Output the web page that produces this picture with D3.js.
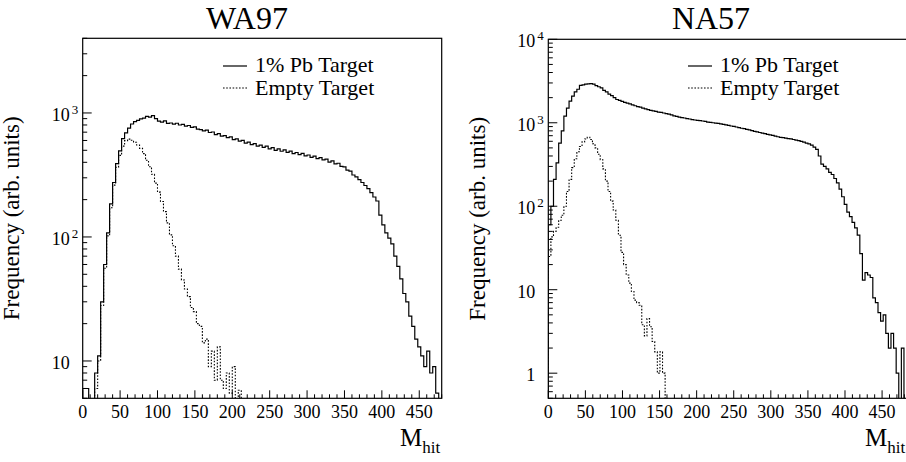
<!DOCTYPE html>
<html>
<head>
<meta charset="utf-8">
<script src="https://cdn.jsdelivr.net/npm/d3@7"></script>
<style>
  body { margin: 0; background: #fff; }
  svg { display: block; font-family: "Liberation Serif", "Times New Roman", serif; }
</style>
</head>
<body>
<div id="plot"></div>
<script>
// Histogram contents (bin contents, log scale)
var wa97BinWidth = 4;
var wa97Pb = [6, 6, 0, 0, 8, 11, 30, 60, 108, 185,
  275, 390, 495, 620, 690, 755, 815, 850, 870, 895,
  910, 940, 925, 950, 900, 860, 845, 862, 825, 830,
  812, 826, 800, 808, 782, 792, 764, 772, 742, 735,
  716, 726, 696, 702, 670, 682, 650, 657, 632, 641,
  610, 618, 592, 600, 572, 581, 556, 566, 540, 551,
  527, 540, 514, 526, 500, 513, 491, 503, 481, 492,
  470, 480, 461, 473, 450, 458, 439, 448, 428, 437,
  419, 425, 402, 411, 388, 393, 371, 368, 346, 340,
  316, 305, 290, 275, 260, 245, 228, 210, 195, 150,
  125, 108, 98, 88, 70, 58, 46, 35, 30, 23,
  19, 15, 13, 11, 9, 12, 8, 9, 5.5, 0];
var wa97Empty = [0, 0, 0, 0, 6, 10, 28, 56, 102, 172,
  262, 365, 455, 540, 598, 615, 602, 580, 552, 518,
  470, 415, 368, 320, 272, 230, 193, 160, 130, 104,
  85, 70, 55, 45, 38, 33, 27, 25, 20, 19,
  14, 15, 9, 12, 7, 13, 7, 6, 8, 5.5,
  9, 0, 5.8];

var na57BinWidth = 3.5;
var na57Pb = [60, 100, 210, 330, 570, 800, 1200, 1500, 1820, 2090,
  2340, 2520, 2810, 2850, 2900, 2920, 2950, 2900, 2780, 2700,
  2620, 2450, 2340, 2200, 2120, 2000, 1900, 1850, 1800, 1760,
  1720, 1680, 1640, 1600, 1560, 1540, 1500, 1470, 1440, 1410,
  1390, 1370, 1340, 1330, 1310, 1290, 1270, 1240, 1210, 1190,
  1170, 1150, 1140, 1120, 1110, 1090, 1080, 1070, 1060, 1050,
  1040, 1020, 1010, 1000, 990, 985, 970, 955, 945, 930,
  915, 905, 890, 875, 860, 850, 835, 820, 805, 790,
  780, 765, 750, 740, 725, 715, 705, 690, 680, 670,
  665, 655, 645, 640, 630, 620, 610, 600, 585, 570,
  560, 540, 510, 480, 400, 320, 300, 280, 255, 240,
  215, 190, 160, 130, 105, 85, 75, 64, 55, 45,
  27, 13, 16, 15, 14, 8, 7, 5.3, 4.2, 5,
  3, 2, 3, 2, 1, 0, 2];
var na57Empty = [25, 43, 50, 56, 68, 78, 100, 150, 210, 290,
  370, 450, 520, 590, 640, 670, 630, 560, 500, 420,
  360, 280, 200, 150, 115, 90, 68, 45, 28, 20,
  15, 12, 9.5, 7.5, 7, 6.5, 3.8, 2.8, 4.5, 3.6,
  2.4, 1.8, 1, 1.8, 1];

var xTicks = [0, 50, 100, 150, 200, 250, 300, 350, 400, 450];

var svg = d3.select("#plot").append("svg")
    .attr("width", 906)
    .attr("height", 462);

function drawPanel(p) {
    var x = d3.scaleLinear().domain(p.xDomain).range([p.left, p.right]);
    var y = d3.scaleLog().domain(p.yDomain).range([p.bottom, p.top]);
    var g = svg.append("g");

    g.append("clipPath").attr("id", p.id + "clip")
      .append("rect")
        .attr("x", p.left).attr("y", p.top)
        .attr("width", p.right - p.left).attr("height", p.bottom - p.top);

    // step outline of a histogram
    function stepPath(vals, bw) {
        var yv = function(v) { return v > p.yDomain[0] ? y(v) : p.bottom + 2; };
        var d = "M" + x(0) + "," + (p.bottom + 2);
        vals.forEach(function(v, i) {
            d += "L" + x(i * bw) + "," + yv(v) + "L" + x((i + 1) * bw) + "," + yv(v);
        });
        d += "L" + x(vals.length * bw) + "," + (p.bottom + 2);
        return d;
    }

    var hg = g.append("g").attr("clip-path", "url(#" + p.id + "clip)");
    hg.append("path")
        .attr("d", stepPath(p.empty, p.bw))
        .attr("fill", "none").attr("stroke", "#000")
        .attr("stroke-width", 1.1)
        .attr("stroke-dasharray", "1.6,1.6");
    hg.append("path")
        .attr("d", stepPath(p.pb, p.bw))
        .attr("fill", "none").attr("stroke", "#000")
        .attr("stroke-width", 1.2);

    // frame
    g.append("rect")
        .attr("x", p.left).attr("y", p.top)
        .attr("width", p.right - p.left).attr("height", p.bottom - p.top)
        .attr("fill", "none").attr("stroke", "#000").attr("stroke-width", 1.2);

    // x ticks (inside, ROOT style)
    d3.range(0, p.xDomain[1] + 0.01, 10).forEach(function(v) {
        var major = v % 50 === 0;
        g.append("line")
            .attr("x1", x(v)).attr("x2", x(v))
            .attr("y1", p.bottom).attr("y2", p.bottom - (major ? 8 : 4))
            .attr("stroke", "#000").attr("stroke-width", 1);
    });
    g.selectAll(".xl").data(xTicks).enter().append("text")
        .attr("x", function(d) { return x(d); })
        .attr("y", p.bottom + 20)
        .attr("text-anchor", "middle")
        .style("font-size", "18px")
        .text(function(d) { return d; });

    // y ticks
    var lo = Math.floor(Math.log10(p.yDomain[0])), hi = Math.ceil(Math.log10(p.yDomain[1]));
    for (var k = lo; k <= hi; k++) {
        for (var m = 1; m <= 9; m++) {
            var v = m * Math.pow(10, k);
            if (v < p.yDomain[0] - 1e-9 || v > p.yDomain[1] + 1e-9) continue;
            g.append("line")
                .attr("x1", p.left).attr("x2", p.left + (m === 1 ? 9 : 4.5))
                .attr("y1", y(v)).attr("y2", y(v))
                .attr("stroke", "#000").attr("stroke-width", 1);
        }
    }
    p.yLabels.forEach(function(t) {
        var yy = y(t.v);
        g.append("text")
            .attr("x", p.left - 13).attr("y", yy + 8)
            .attr("text-anchor", "end")
            .style("font-size", "18px")
            .text(t.base);
        if (t.exp) {
            g.append("text")
                .attr("x", p.left - 11).attr("y", yy + 1)
                .style("font-size", "13px")
                .text(t.exp);
        }
    });

    // axis titles
    g.append("text")
        .attr("transform", "translate(" + p.yTitleX + "," + ((p.top + p.bottom) / 2) + ") rotate(-90)")
        .attr("text-anchor", "middle")
        .style("font-size", "23px")
        .text("Frequency (arb. units)");
    var mt = g.append("text").attr("x", p.mX).attr("y", 446);
    mt.append("tspan").style("font-size", "25px").text("M");
    mt.append("tspan").attr("dy", 7).style("font-size", "17px").text("hit");

    // title
    g.append("text")
        .attr("x", p.titleX).attr("y", 29)
        .attr("text-anchor", "middle")
        .style("font-size", "32px")
        .text(p.title);

    // legend
    g.append("line")
        .attr("x1", p.legX).attr("x2", p.legX + 24)
        .attr("y1", 66).attr("y2", 66)
        .attr("stroke", "#000").attr("stroke-width", 1.2);
    g.append("line")
        .attr("x1", p.legX).attr("x2", p.legX + 24)
        .attr("y1", 88).attr("y2", 88)
        .attr("stroke", "#000").attr("stroke-width", 1.1)
        .attr("stroke-dasharray", "1.6,1.6");
    g.append("text").attr("x", p.legX + 32).attr("y", 72)
        .style("font-size", "22px").text("1% Pb Target");
    g.append("text").attr("x", p.legX + 32).attr("y", 95)
        .style("font-size", "22px").text("Empty Target");
}

drawPanel({
    id: "wa97", title: "WA97", titleX: 247,
    left: 82.7, right: 441.7, top: 38.3, bottom: 398.3,
    xDomain: [0, 480], yDomain: [5, 4000],
    bw: wa97BinWidth, pb: wa97Pb, empty: wa97Empty,
    yLabels: [{v: 10, base: "10"}, {v: 100, base: "10", exp: "2"}, {v: 1000, base: "10", exp: "3"}],
    yTitleX: 19, mX: 400, legX: 223
});

drawPanel({
    id: "na57", title: "NA57", titleX: 711,
    left: 548.3, right: 907.3, top: 39.3, bottom: 398.3,
    xDomain: [0, 484], yDomain: [0.5, 10000],
    bw: na57BinWidth, pb: na57Pb, empty: na57Empty,
    yLabels: [{v: 1, base: "1"}, {v: 10, base: "10"}, {v: 100, base: "10", exp: "2"},
              {v: 1000, base: "10", exp: "3"}, {v: 10000, base: "10", exp: "4"}],
    yTitleX: 485, mX: 865, legX: 688
});
</script>
</body>
</html>
